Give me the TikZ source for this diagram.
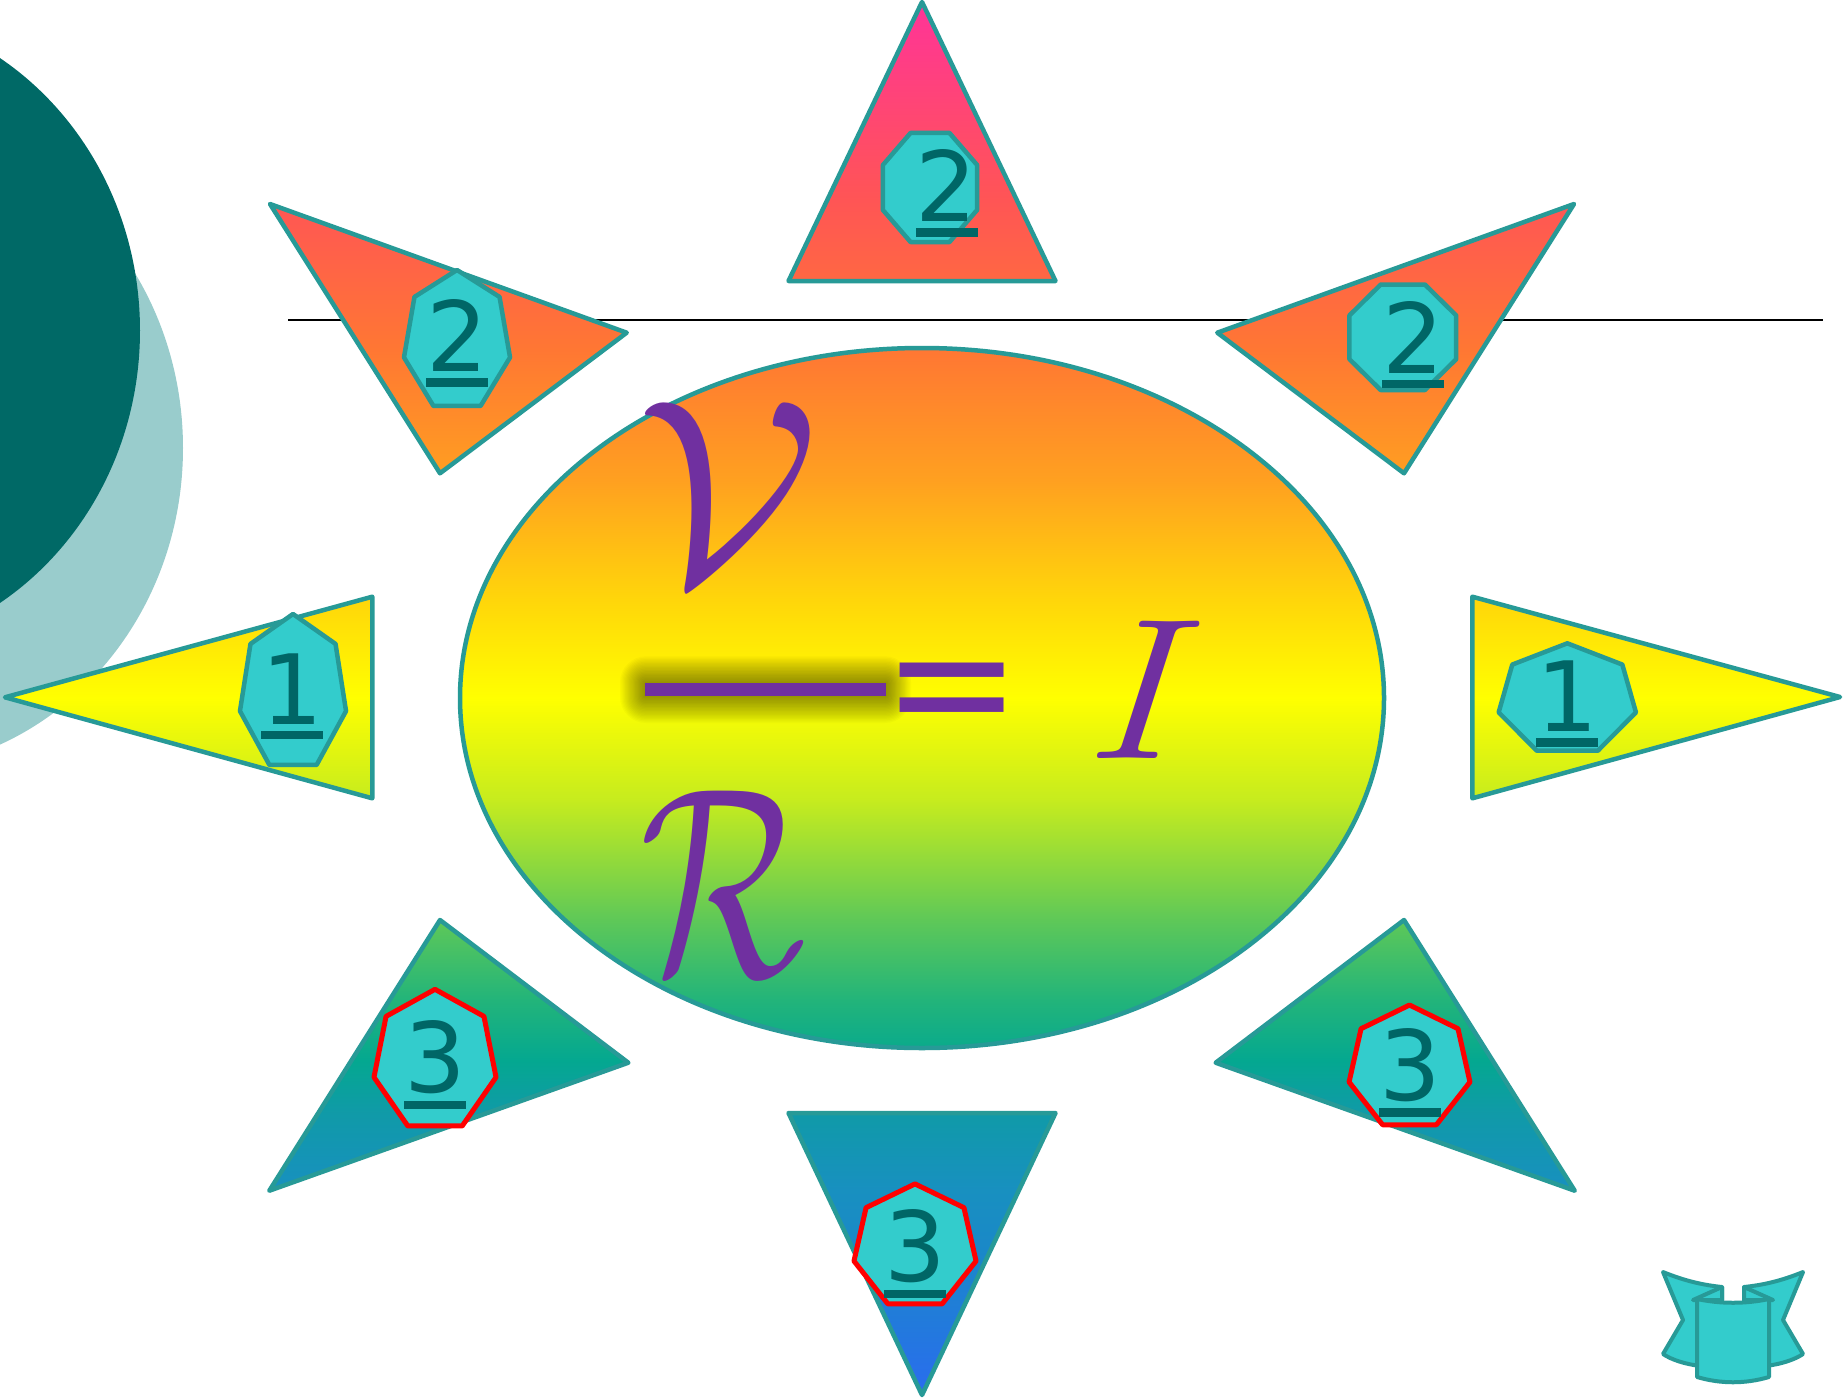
\documentclass[tikz,border=0pt]{standalone}
\usepackage{graphicx}
\usepackage{fontspec}
\newfontfamily\dvsans{DejaVu Sans}
\definecolor{tealline}{HTML}{279A97}
\definecolor{polyfill}{HTML}{33CCCC}
\definecolor{digitcol}{HTML}{006666}
\definecolor{darkteal}{HTML}{006966}
\definecolor{lightteal}{HTML}{99CCCC}
\definecolor{eqpurple}{HTML}{7030A0}
\definecolor{s0}{HTML}{2A6CF0}
\definecolor{s1}{HTML}{1A88C8}
\definecolor{s2}{HTML}{1890C0}
\definecolor{s3}{HTML}{109AA8}
\definecolor{s4}{HTML}{04A890}
\definecolor{s5}{HTML}{22B47A}
\definecolor{s6}{HTML}{5EC858}
\definecolor{s7}{HTML}{C6EC1E}
\definecolor{s8}{HTML}{FFFF00}
\definecolor{s9}{HTML}{FFD60A}
\definecolor{s10}{HTML}{FFA020}
\definecolor{s11}{HTML}{FF7733}
\definecolor{s12}{HTML}{FF5555}
\definecolor{s13}{HTML}{FF3399}
\pgfdeclareverticalshading{sky}{100bp}{color(0bp)=(s0); color(25bp)=(s0); color(30.26bp)=(s1); color(32.41bp)=(s2); color(35.16bp)=(s3); color(37.06bp)=(s4); color(39.21bp)=(s5); color(42.07bp)=(s6); color(46.37bp)=(s7); color(50.02bp)=(s8); color(53.53bp)=(s9); color(57.82bp)=(s10); color(62.47bp)=(s11); color(67.84bp)=(s12); color(75bp)=(s13); color(100bp)=(s13)}
\newcommand{\skyfill}[1]{\begin{scope}\clip #1;\shade[shading=sky] (0,0) rectangle (1843,1397);\end{scope}\draw[tri] #1;}
\newcommand{\ulnum}[1]{\vtop{\hbox{#1}\kern6.5pt\hrule height 8.4pt}}
\newcommand{\hepta}[5]{\draw[#5] plot[samples at={0,...,6}] ({#1+#3*cos(-90+\x*360/7)},{#2+#4*sin(-90+\x*360/7)}) -- cycle;}
\newcommand{\octa}[5]{\draw[#5] plot[samples at={0,...,7}] ({#1+#3*cos(22.5+\x*45)},{#2+#4*sin(22.5+\x*45)}) -- cycle;}
\tikzset{
  tri/.style={draw=tealline, line width=4.5pt, line join=round},
  poly/.style={fill=polyfill, draw=tealline, line width=4.5pt, line join=round},
  redpoly/.style={fill=polyfill, draw=red, line width=5pt, line join=round},
  digit/.style={text=digitcol, font=\dvsans\fontsize{97}{97}\selectfont, inner sep=0pt, anchor=base},
  eqtext/.style={text=eqpurple, inner sep=0pt},
  ribbon/.style={fill=polyfill, draw=tealline, line width=4pt, line join=round}
}
\begin{document}
\begin{tikzpicture}[x=1pt,y=-1pt]
\useasboundingbox (0,0) rectangle (1843,1397);
\fill[white] (0,0) rectangle (1843,1397);
% left decorative ellipses
\fill[lightteal] (-117,448) ellipse [x radius=300pt, y radius=322pt];
\fill[darkteal] (-160,330.5) ellipse [x radius=300pt, y radius=322pt];
% horizontal line
\coordinate (hl1) at (288,320);
\coordinate (hl2) at (1823,320);
\draw[black, line width=2pt] (hl1) -- (hl2);
% triangles
\skyfill{(922,2) -- (1055.5,281) -- (788.5,281) -- cycle}
\skyfill{(270,204) -- (626.7,332.7) -- (440,473.3) -- cycle}
\skyfill{(1574,204) -- (1217.3,332.7) -- (1404,473.3) -- cycle}
\skyfill{(5,697.3) -- (372.3,596.7) -- (372.3,798.3) -- cycle}
\skyfill{(1840,697) -- (1472.3,596.7) -- (1472.3,798.3) -- cycle}
\skyfill{(440,920) -- (628.3,1062.7) -- (269.3,1190.7) -- cycle}
\skyfill{(1404,920) -- (1215.7,1062.7) -- (1574.7,1190.7) -- cycle}
\skyfill{(788.5,1113) -- (1055.5,1113) -- (922,1395) -- cycle}
% main ellipse
\skyfill{(922,698) ellipse [x radius=462pt, y radius=350pt]}
% polygons
\octa{930}{187.5}{50.9}{59}{poly}
\hepta{457}{341.5}{54.4}{71.5}{poly}
\octa{1402.8}{337.3}{57.8}{57.1}{poly}
\hepta{293}{693.4}{54.4}{79.4}{poly}
\hepta{1567.3}{699.8}{70.4}{56.5}{poly}
\hepta{435}{1061.2}{62.6}{71.9}{redpoly}
\hepta{915}{1247}{62.6}{63.1}{redpoly}
\hepta{1409.5}{1068}{62}{63}{redpoly}
% digits
\node[digit] (dtop) at (946.8,221.7) {\ulnum{2}};
\node[digit] (dul) at (457.2,371.7) {\ulnum{2}};
\node[digit] (dur) at (1413,373.5) {\ulnum{2}};
\node[digit] (dl) at (292,724) {\ulnum{1}};
\node[digit] (dr) at (1567,731.7) {\ulnum{1}};
\node[digit] (dll) at (435,1092.7) {\ulnum{3}};
\node[digit] (db) at (915,1281.7) {\ulnum{3}};
\node[digit] (dlr) at (1410,1100.5) {\ulnum{3}};
% fraction bar shadow (soft glow)
\foreach \t in {1,...,20}{
  \fill[black, opacity=0.025, rounded corners={1.3*\t pt}] ({645-1.25*\t},{683.3-1.35*\t}) rectangle ({886+1.25*\t},{696+1.35*\t});
}
\fill[eqpurple] (645,683.3) rectangle (886,696);
% equation text
\node[eqtext, anchor=base] (numV) at (728,582) {\scalebox{26.3}{$\mathcal{V}$}};
\node[eqtext, anchor=base] (denR) at (723,975) {\scalebox{19.5}[27]{$\mathcal{R}$}};
\node[eqtext, anchor=north] (eqs) at (952.5,662.7) {\scalebox{16.6}[17.5]{\dvsans =}};
\node[eqtext, anchor=base, xslant=0.07, transform shape] (curI) at (1143,758.3) {\scalebox{20.1}{$I$}};
% ribbon icon
\draw[ribbon] (1663,1272) .. controls (1685,1281) and (1703,1285) .. (1722,1287) -- (1722,1330) -- (1700,1366) .. controls (1685,1364) and (1672,1360) .. (1663,1354) -- (1683,1320) -- cycle;
\draw[ribbon] (1803,1272) .. controls (1781,1281) and (1763,1285) .. (1744,1287) -- (1744,1330) -- (1766,1366) .. controls (1781,1364) and (1794,1360) .. (1803,1354) -- (1783,1320) -- cycle;
\draw[ribbon] (1693,1300) -- (1722,1287) -- (1722,1300) -- cycle;
\draw[ribbon] (1773,1300) -- (1744,1287) -- (1744,1300) -- cycle;
\draw[ribbon] (1697,1299) .. controls (1721,1304) and (1745,1304) .. (1769,1299) -- (1769,1377) .. controls (1745,1384) and (1721,1384) .. (1697,1377) -- cycle;
\end{tikzpicture}
\end{document}
